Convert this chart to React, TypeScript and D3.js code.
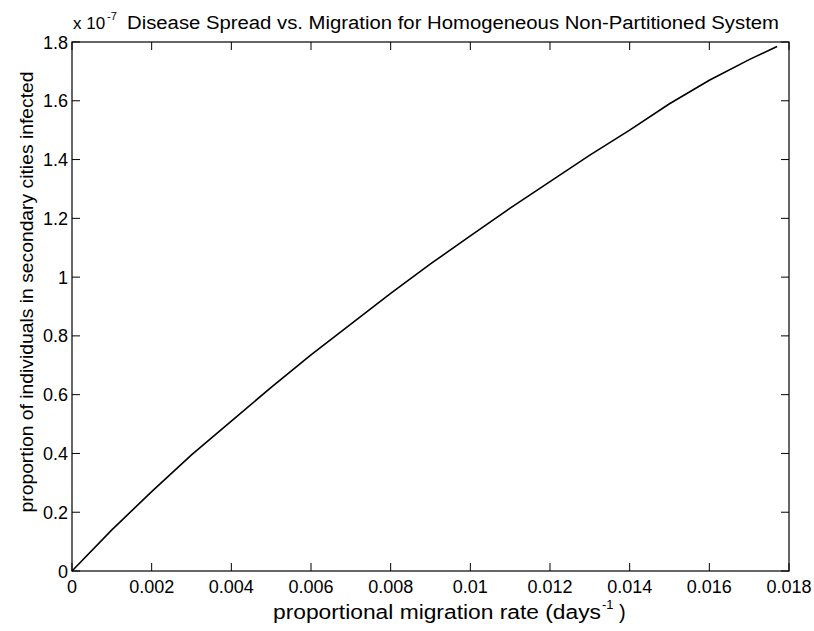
import React from "react";
import * as d3 from "d3";

const migrationRate = [0, 0.001, 0.002, 0.003, 0.004, 0.005, 0.006, 0.007, 0.008, 0.009, 0.01, 0.011, 0.012, 0.013, 0.014, 0.015, 0.016, 0.017, 0.0177];
const infected = [0, 0.14, 0.27, 0.395, 0.51, 0.625, 0.735, 0.84, 0.945, 1.045, 1.14, 1.235, 1.325, 1.415, 1.5, 1.59, 1.67, 1.74, 1.785];
const xTicks = [0, 0.002, 0.004, 0.006, 0.008, 0.01, 0.012, 0.014, 0.016, 0.018];
const xTickLabels = ["0", "0.002", "0.004", "0.006", "0.008", "0.01", "0.012", "0.014", "0.016", "0.018"];
const yTicks = [0, 0.2, 0.4, 0.6, 0.8, 1, 1.2, 1.4, 1.6, 1.8];
const yTickLabels = ["0", "0.2", "0.4", "0.6", "0.8", "1", "1.2", "1.4", "1.6", "1.8"];

const W = 814, H = 631;
const L = 72, R = 789, T = 42, B = 571;
const FONT = "'Liberation Sans', Arial, Helvetica, sans-serif";

export default function App() {
  const x = d3.scaleLinear().domain([0, 0.018]).range([L, R]);
  const y = d3.scaleLinear().domain([0, 1.8]).range([B, T]);
  const line = d3.line<number>().x((_, i) => x(migrationRate[i])).y((d) => y(d));
  const path = line(infected) || "";
  const tl = 8;
  return (
    <svg width={W} height={H} style={{ position: "absolute", left: 0, top: 0, background: "#fff" }} fontFamily={FONT}>
      <rect x={0} y={0} width={W} height={H} fill="#fff" />
      <path d={path} fill="none" stroke="#000" strokeWidth={1.6} />
      <rect x={L} y={T} width={R - L} height={B - T} fill="none" stroke="#000" strokeWidth={1.2} />
      {xTicks.map((t, i) => (
        <g key={"x" + i}>
          <line x1={x(t)} x2={x(t)} y1={B} y2={B - tl} stroke="#000" strokeWidth={1} />
          <line x1={x(t)} x2={x(t)} y1={T} y2={T + tl} stroke="#000" strokeWidth={1} />
          <text x={x(t)} y={593} fontSize={18} textAnchor="middle" fill="#000">{xTickLabels[i]}</text>
        </g>
      ))}
      {yTicks.map((t, i) => (
        <g key={"y" + i}>
          <line x1={L} x2={L + tl} y1={y(t)} y2={y(t)} stroke="#000" strokeWidth={1} />
          <line x1={R} x2={R - tl} y1={y(t)} y2={y(t)} stroke="#000" strokeWidth={1} />
          <text x={68} y={y(t) + 6.5} fontSize={18} textAnchor="end" fill="#000">{yTickLabels[i]}</text>
        </g>
      ))}
      <text x={73} y={29} fontSize={17} fill="#000">x 10</text>
      <text x={107} y={20} fontSize={11} fill="#000">-7</text>
      <text x={127} y={29} fontSize={18} textLength={652} lengthAdjust="spacingAndGlyphs" fill="#000">Disease Spread vs. Migration for Homogeneous Non-Partitioned System</text>
      <text x={273} y={619} fontSize={20} textLength={328} lengthAdjust="spacingAndGlyphs" fill="#000">proportional migration rate (days</text>
      <text x={602} y={609} fontSize={13} fill="#000">-1</text>
      <text x={619} y={619} fontSize={20} fill="#000">)</text>
      <text transform={`translate(33,292) rotate(-90)`} fontSize={19} textAnchor="middle" textLength={441} lengthAdjust="spacingAndGlyphs" fill="#000">proportion of individuals in secondary cities infected</text>
    </svg>
  );
}
